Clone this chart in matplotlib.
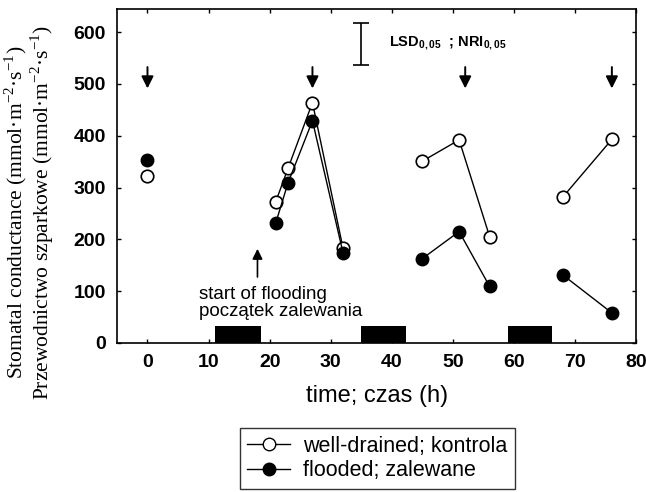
import numpy as np
import matplotlib
matplotlib.use('Agg')
import matplotlib.pyplot as plt

# data
time_h = [0, 21, 23, 27, 32, 45, 51, 56, 68, 76]
group = [0, 1, 1, 1, 1, 2, 2, 2, 3, 3]
well_drained = [322, 273, 337, 464, 183, 351, 392, 205, 282, 393]
flooded = [353, 232, 309, 429, 174, 163, 215, 109, 131, 58]

night_start = [11, 35, 59]
night_end = [18.5, 42.3, 66.2]
night_height = 33

arrow_times = [0, 27, 52, 76]
lsd_low, lsd_high = 537, 618

sans = ['Liberation Sans', 'DejaVu Sans']
serif = ['Liberation Serif', 'DejaVu Serif']
plt.rcParams['font.family'] = sans
plt.rcParams['mathtext.fontset'] = 'custom'
plt.rcParams['mathtext.rm'] = 'Liberation Serif'
plt.rcParams['mathtext.bf'] = 'Liberation Sans:bold'

fig = plt.figure(figsize=(6.46, 4.92), dpi=100)
ax = fig.add_axes([0.181, 0.303, 0.804, 0.679])

t = np.array(time_h)
g = np.array(group)
wd = np.array(well_drained)
fl = np.array(flooded)

for k in np.unique(g):
    m = g == k
    ax.plot(t[m], wd[m], '-o', color='black', mfc='white', mec='black',
            ms=9, lw=1, mew=1.2, zorder=3)
for k in np.unique(g):
    m = g == k
    ax.plot(t[m], fl[m], '-o', color='black', mfc='black', mec='black',
            ms=9, lw=1, zorder=4)

# dark periods
for s, e in zip(night_start, night_end):
    ax.bar(s, night_height, width=e - s, align='edge', color='black', zorder=2)

# sampling arrows
for at in arrow_times:
    ax.annotate('', xy=(at, 486), xytext=(at, 538),
                arrowprops=dict(arrowstyle='-|>', color='black', lw=1.4,
                                mutation_scale=18))

# start of flooding
ax.annotate('', xy=(18, 187), xytext=(18, 122),
            arrowprops=dict(arrowstyle='-|>', color='black', lw=1.2,
                            mutation_scale=15))
ax.text(8.5, 77, 'start of flooding\npoczątek zalewania', fontsize=13.5,
        ha='left', va='center', linespacing=1.05)

# LSD bar
ax.errorbar([35], [(lsd_low + lsd_high) / 2], yerr=[[(lsd_high - lsd_low) / 2]],
            color='black', capsize=6, lw=1.2, capthick=1.2)
ax.text(39.6, 578, 'LSD$_{\\mathbf{0,05}}$  ; NRI$_{\\mathbf{0,05}}$',
        fontsize=10.5, fontweight='bold', ha='left', va='center')

ax.set_xlim(-5, 80)
ax.set_ylim(0, 645)
ax.set_xticks(range(0, 81, 10))
ax.set_yticks(range(0, 601, 100))
ax.tick_params(direction='in', top=True, right=True, length=3, width=1,
               labelsize=14, pad=8)
for lab in ax.get_xticklabels() + ax.get_yticklabels():
    lab.set_fontweight('bold')
for sp in ax.spines.values():
    sp.set_linewidth(1.2)

ax.set_xlabel('time; czas (h)', fontsize=17, labelpad=10)
ax.set_ylabel('Stomatal conductance (mmol·m$^{-2}$·s$^{-1}$)\n'
              'Przewodnictwo szparkowe (mmol·m$^{-2}$·s$^{-1}$)',
              fontsize=15.5, family=serif, linespacing=0.95)
ax.yaxis.set_label_coords(-0.118, 0.39)

h1, = ax.plot([], [], '-o', color='black', mfc='white', ms=9, lw=1)
h2, = ax.plot([], [], '-o', color='black', mfc='black', ms=9, lw=1)
leg = fig.legend([h1, h2], ['well-drained; kontrola', 'flooded; zalewane'],
                 loc='center', bbox_to_anchor=(0.584, 0.068), fontsize=15.5,
                 frameon=True, fancybox=False, edgecolor='black',
                 handlelength=2.0, borderpad=0.35, labelspacing=0.15,
                 handletextpad=0.6)
leg.get_frame().set_linewidth(1.0)

fig.savefig('out.png', dpi=100)
